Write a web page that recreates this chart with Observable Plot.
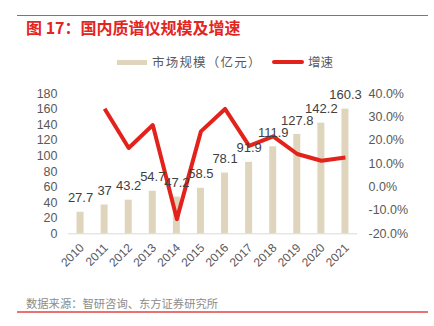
<!DOCTYPE html>
<html><head><meta charset="utf-8">
<script src="https://cdn.jsdelivr.net/npm/d3@7"></script>
<script src="https://cdn.jsdelivr.net/npm/@observablehq/plot@0.6"></script>
<style>
body{margin:0;background:#fff;}
#page{position:relative;width:434px;height:326px;overflow:hidden;background:#fff;font-family:"Noto Sans CJK SC","Noto Sans",sans-serif;}
.topline{position:absolute;left:17px;width:411px;top:14.5px;height:1px;background:#e9474a;}
.botline{position:absolute;left:17px;width:411px;top:311px;height:1.5px;background:#ea7072;}
#title{position:absolute;left:26px;top:19px;font-size:16px;line-height:16px;font-weight:bold;color:#e3241f;white-space:nowrap;}
#legend{position:absolute;top:55px;left:0;width:434px;height:14px;font-size:12.5px;line-height:14px;color:#595959;}
#legend .sw1{position:absolute;left:117px;top:4.5px;width:30px;height:5px;background:#ded5bc;}
#legend .t1{position:absolute;left:152px;top:0;white-space:nowrap;letter-spacing:1.2px;}
#legend .sw2{position:absolute;left:272px;top:5px;width:32px;height:4px;border-radius:2px;background:#e3231b;}
#legend .t2{position:absolute;left:308px;top:0;white-space:nowrap;}
#chart{position:absolute;left:0;top:80px;}
#source{position:absolute;left:26px;top:296px;font-size:11.3px;line-height:14px;color:#8c8c8c;white-space:nowrap;}
</style></head><body>
<div id="page">
  <div class="topline"></div>
  <div id="title">图 17：国内质谱仪规模及增速</div>
  <div id="legend">
    <div class="sw1"></div><div class="t1">市场规模（亿元）</div>
    <div class="sw2"></div><div class="t2">增速</div>
  </div>
  <div id="chart"></div>
  <div id="source">数据来源：智研咨询、东方证券研究所</div>
  <div class="botline"></div>
</div>
<script>
// Data
const years = [2010, 2011, 2012, 2013, 2014, 2015, 2016, 2017, 2018, 2019, 2020, 2021];
const marketSize = [27.7, 37, 43.2, 54.7, 47.2, 58.5, 78.1, 91.9, 111.9, 127.8, 142.2, 160.3];
const growthYears = [2011, 2012, 2013, 2014, 2015, 2016, 2017, 2018, 2019, 2020, 2021];
const growthPct = [33.6, 16.8, 26.6, -13.7, 23.9, 33.5, 17.7, 21.8, 14.2, 11.3, 12.7];
const leftTicks = [0, 20, 40, 60, 80, 100, 120, 140, 160, 180];
const rightTicks = [-20, -10, 0, 10, 20, 30, 40];

const bars = years.map((y, i) => ({year: y, size: marketSize[i]}));
const growth = growthYears.map((y, i) => ({year: y, g: growthPct[i]}));
// map right-axis percent [-20,40] onto the left-axis domain [0,180]
const toLeft = p => (p + 20) * 3;

const fontFamily = '"Liberation Sans", Arial, sans-serif';
const chart = Plot.plot({
  width: 434,
  height: 200,
  marginLeft: 68,
  marginRight: 77,
  marginTop: 13.3,
  marginBottom: 46.7,
  style: {fontFamily, fontSize: "12.5px", color: "#595959", background: "transparent", overflow: "visible"},
  x: {type: "linear", domain: [2009.5, 2021.5], axis: null},
  y: {domain: [0, 180], axis: null},
  marks: [
    Plot.rectY(bars, {x1: d => d.year - 0.145, x2: d => d.year + 0.145, y1: 0, y2: "size", fill: "#ded5bc"}),
    Plot.ruleY([0], {stroke: "#d9d9d9", strokeWidth: 1}),
    Plot.lineY(growth, {x: "year", y: d => toLeft(d.g), stroke: "#e3231b", strokeWidth: 4, strokeLinejoin: "round", strokeLinecap: "butt"}),
    Plot.text(bars, {x: "year", y: "size", text: d => String(d.size), dy: -14, fill: "#404040", fontSize: 13}),
    Plot.axisY({anchor: "left", ticks: leftTicks, tickSize: 0, tickPadding: 11, label: null, tickFormat: d => String(d)}),
    Plot.axisY({anchor: "right", ticks: rightTicks.map(toLeft), tickSize: 0, tickPadding: 11, label: null,
      tickFormat: v => (v / 3 - 20).toFixed(1) + "%", textAnchor: "start"}),
    Plot.text(years, {x: d => d, y: 0, text: d => String(d), rotate: -45, textAnchor: "end", dx: 1.5, dy: 12, fill: "#595959", fontSize: 12})
  ]
});
document.getElementById("chart").appendChild(chart);
</script>
</body></html>
